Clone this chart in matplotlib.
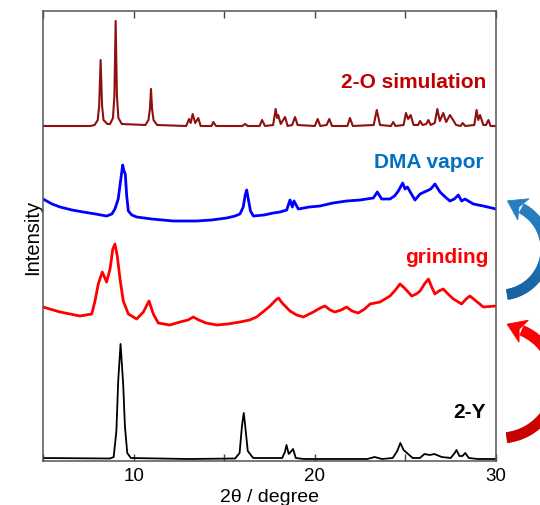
import numpy as np
import matplotlib
matplotlib.use("Agg")
import matplotlib.pyplot as plt
from matplotlib.collections import PolyCollection
from matplotlib.patches import Polygon

plt.rcParams["font.family"] = ["Liberation Sans", "DejaVu Sans"]

# Traces: 2theta (deg) vs. stacked intensity (arbitrary, offsets included).
SIM_X = [5.0, 7.6, 7.85, 8.02, 8.1, 8.18, 8.26, 8.34, 8.55, 8.7, 8.86, 8.94, 9.01, 9.08, 9.16, 9.35,
         10.65, 10.82, 10.9, 10.96, 11.02, 11.1, 11.3, 12.9, 13.06, 13.15, 13.26, 13.4, 13.57,
         13.7, 14.3, 14.4, 14.55, 16.0, 16.15, 16.3, 16.95, 17.09, 17.25, 17.7, 17.84, 17.92,
         17.98, 18.12, 18.36, 18.5, 18.75, 18.91, 19.05, 20.0, 20.16, 20.3, 20.65, 20.8, 20.95,
         21.8, 21.94, 22.1, 23.25, 23.42, 23.6, 24.2, 24.33, 24.45, 24.9, 25.03, 25.15, 25.29,
         25.45, 25.7, 25.81, 25.95, 26.15, 26.27, 26.4, 26.62, 26.76, 26.9, 27.09, 27.25, 27.46,
         27.63, 27.8, 28.05, 28.16, 28.3, 28.8, 28.93, 29.02, 29.12, 29.3, 29.45, 29.58, 29.7, 30.0]
SIM_Y = [335, 335, 336, 341, 355, 401, 355, 341, 337, 337, 343, 365, 440, 365, 343, 337,
         336, 341, 352, 372, 352, 341, 336, 335, 342, 338, 347, 338, 343,
         335, 335, 339, 335, 335, 337, 335, 335, 341, 335, 336, 352, 343,
         346, 337, 344, 335, 336, 344, 336, 335, 342, 335, 336, 342, 335,
         335, 343, 335, 336, 351, 336, 335, 339, 335, 336, 348, 342, 346,
         336, 336, 340, 336, 337, 341, 336, 338, 352, 340, 348, 339, 346,
         341, 336, 335, 338, 335, 336, 351, 341, 346, 336, 336, 341, 335, 335]

DMA_X = [5.0, 5.5, 5.94, 6.6, 7.22, 7.9, 8.51, 8.8, 8.97, 9.15, 9.28, 9.4, 9.47, 9.54, 9.62,
         9.71, 9.9, 10.17, 11.0, 12.19, 13.48, 14.3, 15.14, 15.6, 15.87, 16.05, 16.16, 16.24,
         16.33, 16.45, 16.61, 17.2, 17.71, 18.08, 18.45, 18.63, 18.76, 18.85, 19.09, 19.7,
         20.29, 21.0, 21.76, 22.5, 23.23, 23.45, 23.69, 24.15, 24.4, 24.61, 24.85, 24.98,
         25.11, 25.3, 25.53, 25.81, 26.17, 26.4, 26.63, 26.91, 27.2, 27.46, 27.7, 27.92,
         28.1, 28.29, 28.75, 29.3, 30.0]
DMA_Y = [262, 257, 254, 251, 249, 247, 245, 247, 252, 262, 280, 296, 290, 287, 265,
         250, 246, 244, 242, 240, 240, 241, 243, 245, 247, 254, 266, 271,
         262, 250, 245, 246, 248, 249, 251, 261, 254, 260, 252, 254,
         255, 258, 260, 261, 263, 269, 262, 262, 265, 270, 278, 272,
         274, 268, 261, 267, 270, 272, 277, 269, 264, 260, 262, 266,
         260, 262, 257, 255, 252]

GRIND_X = [5.0, 5.94, 7.04, 7.69, 7.87, 8.05, 8.27, 8.51, 8.7, 8.85, 8.97, 9.1, 9.25, 9.43,
           9.71, 10.17, 10.54, 10.85, 11.09, 11.36, 12.0, 12.56, 13.0, 13.29, 13.6, 14.0,
           14.59, 15.2, 15.87, 16.4, 16.79, 17.2, 17.53, 17.85, 18.0, 18.2, 18.63, 19.0,
           19.37, 19.92, 20.3, 20.56, 20.85, 21.11, 21.45, 21.76, 22.05, 22.4, 22.75, 23.05,
           23.6, 24.15, 24.45, 24.7, 24.95, 25.35, 25.6, 25.81, 26.05, 26.27, 26.45, 26.63,
           26.85, 27.09, 27.35, 27.65, 28.1, 28.35, 28.56, 28.9, 29.3, 30.0]
GRIND_Y = [154, 149, 145, 147, 160, 177, 189, 179, 192, 212, 217, 205, 182, 160,
           147, 142, 149, 160, 147, 138, 136, 139, 141, 144, 141, 138,
           136, 137, 139, 141, 144, 150, 155, 161, 163, 158, 150, 146,
           144, 149, 153, 155, 151, 149, 151, 154, 150, 148, 152, 157,
           159, 165, 171, 177, 173, 165, 167, 170, 177, 182, 174, 167,
           170, 172, 167, 162, 157, 162, 165, 160, 154, 155]

Y2_X = [5.0, 8.7, 8.9, 9.05, 9.15, 9.28, 9.36, 9.43, 9.52, 9.65, 9.85, 13.0, 15.6, 15.85,
        15.98, 16.08, 16.16, 16.3, 16.6, 18.2, 18.35, 18.44, 18.56, 18.66, 18.8, 18.95, 19.4,
        22.9, 23.3, 23.7, 24.3, 24.55, 24.72, 24.9, 25.15, 25.4, 25.8, 26.05, 26.35, 26.6,
        27.0, 27.5, 27.72, 27.82, 27.98, 28.15, 28.3, 28.5, 29.0, 30.0]
Y2_Y = [3, 2.5, 4, 30, 80, 117, 95, 75, 35, 8, 3, 2, 2.5, 8,
        35, 48, 35, 10, 3, 3, 9, 16, 7, 9, 12, 3, 2,
        2, 4, 2, 3, 10, 18, 11, 7, 3, 3, 7, 6, 7,
        4, 3, 8, 11, 5, 5, 8, 3, 2, 2]

SERIES = [
    (SIM_X, SIM_Y, "#8E1010", 1.5),
    (DMA_X, DMA_Y, "#0000FF", 2.0),
    (GRIND_X, GRIND_Y, "#FF0000", 2.0),
    (Y2_X, Y2_Y, "#000000", 1.3),
]
LABELS = ["2-O simulation", "DMA vapor", "grinding", "2-Y"]
LABEL_COLORS = ["#C00000", "#0070C0", "#FF0000", "#000000"]
LABEL_POS = [(29.45, 374), (29.34, 294), (29.61, 199), (29.42, 44)]
XTICKS = [10, 20, 30]

W, H = 540, 506
fig = plt.figure(figsize=(W / 100, H / 100), dpi=100)
ax = fig.add_axes([43 / W, 1 - 462 / H, 453 / W, 450 / H])

for xs, ys, color, lw in SERIES:
    ax.plot(xs, ys, color=color, lw=lw, solid_joinstyle="round")

for text, color, (tx, ty) in zip(LABELS, LABEL_COLORS, LABEL_POS):
    ax.text(tx, ty, text, color=color, fontsize=15, fontweight="bold",
            ha="right", va="baseline")

ax.set_xlim(5, 30)
ax.set_ylim(0, 450)
ax.set_xticks(np.arange(5, 31, 5))
ax.set_xticklabels(["" if t not in XTICKS else str(t) for t in range(5, 31, 5)])
ax.set_yticks([])
ax.tick_params(axis="x", direction="in", top=True, length=5, width=1, pad=4,
               labelsize=13.5, color="#444444")
for s in ax.spines.values():
    s.set_color("#555555")
    s.set_linewidth(1.1)
# the reference crops the x label slightly at the bottom edge; keep it just inside
ax.set_xlabel("2θ / degree", fontsize=14, labelpad=3.5)
ax.set_ylabel("Intensity", fontsize=14.5, labelpad=0.5)


def curved_arrow(cx, cy, r, t0, t1, c_start, c_end, thick=10, head_len=16, head_w=24):
    # arc in figure pixels (y down), shaded from tail colour to head colour
    ts = np.radians(np.linspace(t0, t1, 80))
    ri, ro = r - thick / 2, r + thick / 2
    c0 = np.array(matplotlib.colors.to_rgb(c_start))
    c1 = np.array(matplotlib.colors.to_rgb(c_end))
    quads, cols = [], []
    for i in range(len(ts) - 1):
        a, b = ts[i], ts[i + 1]
        q = [(cx + ri * np.cos(a), cy - ri * np.sin(a)), (cx + ro * np.cos(a), cy - ro * np.sin(a)),
             (cx + ro * np.cos(b), cy - ro * np.sin(b)), (cx + ri * np.cos(b), cy - ri * np.sin(b))]
        quads.append([(px / W, 1 - py / H) for px, py in q])
        f = i / (len(ts) - 2)
        cols.append(c0 + (c1 - c0) * f)
    pc = PolyCollection(quads, facecolors=cols, edgecolors=cols, linewidths=0.6,
                        transform=fig.transFigure, clip_on=False)
    fig.add_artist(pc)
    e = np.radians(t1)
    ex, ey = cx + r * np.cos(e), cy - r * np.sin(e)
    dx, dy = -np.sin(e), -np.cos(e)
    nx, ny = -dy, dx
    pts = [(ex + dx * head_len, ey + dy * head_len),
           (ex + nx * head_w / 2 - dx * 2, ey + ny * head_w / 2 - dy * 2),
           (ex + dx * 3, ey + dy * 3),
           (ex - nx * head_w / 2 - dx * 2, ey - ny * head_w / 2 - dy * 2)]
    fig.add_artist(Polygon([(px / W, 1 - py / H) for px, py in pts], closed=True,
                           facecolor=c_end, edgecolor=c_end, lw=0.6,
                           transform=fig.transFigure, clip_on=False))


curved_arrow(500, 250, 46, -81, 62, "#14609F", "#2580C0")
curved_arrow(500, 383, 56, -83, 67, "#C00000", "#FF0000")

fig.savefig("out.png", dpi=100)
